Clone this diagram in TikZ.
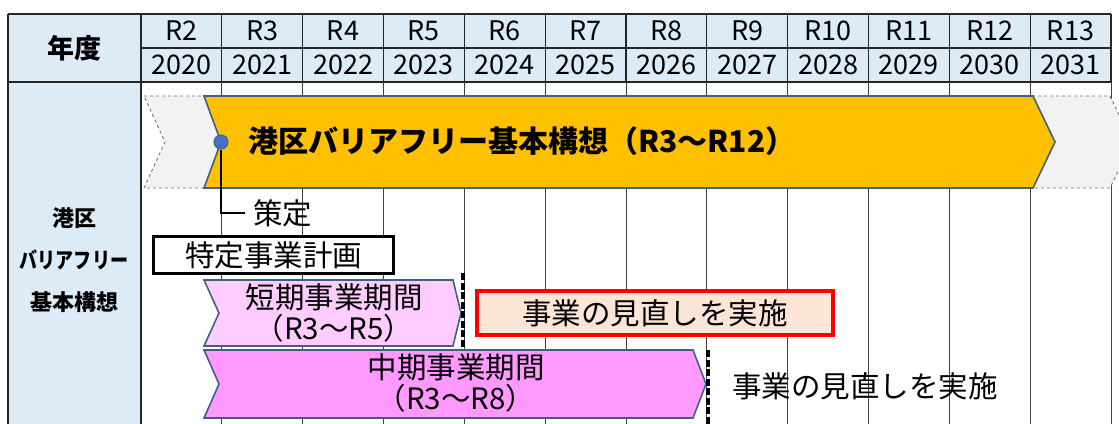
\documentclass[tikz,border=0pt]{standalone}
\usepackage{fontspec}
\setmainfont{Noto Sans CJK JP}
\usetikzlibrary{calc}
\definecolor{hdrblue}{HTML}{DDEBF7}
\definecolor{goldfill}{HTML}{FFC000}
\definecolor{edgeblue}{HTML}{41607F}
\definecolor{lpink}{HTML}{FFCCFF}
\definecolor{mpink}{HTML}{FF99FF}
\definecolor{grayfill}{HTML}{F2F2F2}
\definecolor{dotblue}{HTML}{4472C4}
\definecolor{redfill}{HTML}{FBE5D6}
\tikzset{
  hdrtxt/.style={font=\fontsize{27}{28}\selectfont, inner sep=0pt},
  lefttxt/.style={font=\fontsize{22}{24}\selectfont\bfseries, inner sep=0pt},
  bodytxt/.style={font=\fontsize{29.5}{31}\selectfont, inner sep=0pt, align=center},
  chev/.style={draw=edgeblue, line width=1.6pt, line join=miter},
  cutline/.style={black, line width=4pt, dash pattern=on 7pt off 2.5pt},
  gridbody/.style={draw=black!75, line width=0.8pt},
  gridhead/.style={draw=black!85, line width=1.2pt}
}
\begin{document}
\begin{tikzpicture}[x=1pt,y=-1pt]
\useasboundingbox (0,0) rectangle (1119,423);
\clip (0,0) rectangle (1119,423);
% table background
\fill[hdrblue] (8,14) rectangle (1111,82);
\fill[hdrblue] (8,82) rectangle (141,430);
% grid lines
\foreach \i in {1,...,12} {
  \pgfmathsetmacro{\xx}{141+80.83*\i}
  \draw[gridbody] (\xx,82) -- (\xx,430);
  \draw[gridhead] (\xx,14) -- (\xx,82);
}
\draw[gridhead] (8,14) -- (1111,14);
\draw[gridhead] (141,48) -- (1111,48);
\draw[gridhead] (8,82) -- (1111,82);
\draw[gridhead] (8,14) -- (8,430);
\draw[gridhead] (141,14) -- (141,430);
% header texts
\node[lefttxt, font=\fontsize{27}{28}\selectfont\bfseries] (nendo) at (74,48) {年度};
\foreach \r/\y [count=\i from 0] in {R2/2020,R3/2021,R4/2022,R5/2023,R6/2024,R7/2025,R8/2026,R9/2027,R10/2028,R11/2029,R12/2030,R13/2031} {
  \pgfmathsetmacro{\xc}{141+80.83*\i+40.4}
  \node[hdrtxt] (r\i) at (\xc,31) {\r};
  \node[hdrtxt] (y\i) at (\xc,65) {\y};
}
% left column labels
\node[lefttxt] (lab1) at (74,218) {港区};
\node[lefttxt] (lab2) at (74,260) {\scalebox{0.82}[1]{バリアフリー}};
\node[lefttxt] (lab3) at (74,302) {基本構想};
% gray chevron behind
\draw[fill=grayfill, draw=black!55, line width=0.9pt, dashed]
  (144,96) -- (1110,96) -- (1132,142) -- (1110,188) -- (144,188) -- (165,142) -- cycle;
% gold chevron
\draw[chev, fill=goldfill]
  (204,96) -- (1033,96) -- (1055,142) -- (1033,188) -- (204,188) -- (221,142) -- cycle;
\node[inner sep=0pt, anchor=west, font=\fontsize{30}{32}\selectfont\bfseries] (plan) at (248,141) {港区バリアフリー基本構想（R3～R12）};
% dot and 策定
\node[circle, fill=dotblue, draw=edgeblue, line width=1pt, minimum size=14pt, inner sep=0pt] (dot) at (221,142) {};
\coordinate (bend) at (221,213);
\node[bodytxt, anchor=west] (sakutei) at (253,213) {策定};
\draw[black, line width=2.5pt] (dot.south) -- (bend) -- ($(sakutei.west)+(-8,0)$);
% 特定事業計画
\node[draw=black, line width=3pt, fill=white, minimum width=240pt, minimum height=37pt, bodytxt, anchor=north west] (tokutei) at (152,235) {特定事業計画};
% short chevron
\draw[chev, fill=lpink]
  (204,280) -- (453,280) -- (461,313) -- (453,346) -- (204,346) -- (219,313) -- cycle;
\node[bodytxt] (short) at (334,313) {短期事業期間\\（R3～R5）};
% medium chevron
\draw[chev, fill=mpink]
  (204,350) -- (693,350) -- (706,384) -- (693,418) -- (204,418) -- (219,384) -- cycle;
\node[bodytxt] (mid) at (456,383) {中期事業期間\\（R3～R8）};
% dashed cut lines
\coordinate (c1t) at (463,273);
\coordinate (c1b) at (463,347);
\draw[cutline] (c1t) -- (c1b);
\coordinate (c2t) at (708,350);
\coordinate (c2b) at (708,425);
\draw[cutline] (c2t) -- (c2b);
% red review box
\node[draw=red, line width=4pt, fill=redfill, minimum width=356pt, minimum height=44pt, bodytxt, anchor=north west] (review1) at (475,289) {事業の見直しを実施};
\node[bodytxt, anchor=west] (review2) at (732,386) {事業の見直しを実施};
\end{tikzpicture}
\end{document}
